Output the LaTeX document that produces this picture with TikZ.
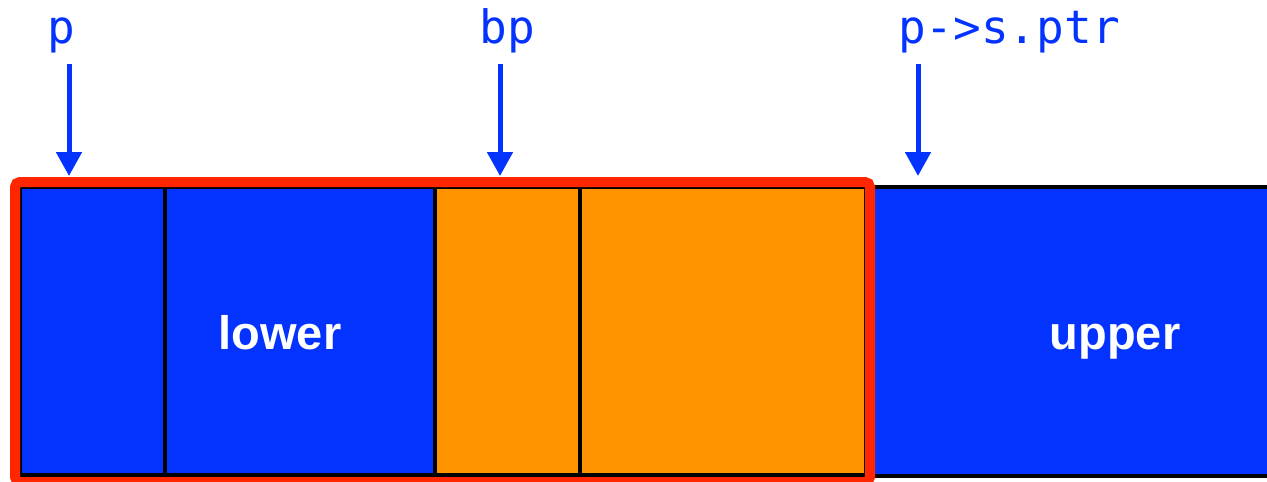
\documentclass[tikz,border=0pt]{standalone}
\usepackage{fontspec}
\setsansfont{Liberation Sans}
\newfontfamily\monofont{DejaVu Sans Mono}
\usetikzlibrary{arrows.meta}
\definecolor{kblue}{HTML}{0433FF}
\definecolor{korange}{HTML}{FF9300}
\definecolor{kred}{HTML}{FF2600}
\tikzset{
  cellbox/.style={draw=black, line width=4pt},
  ptrlabel/.style={text=kblue, font=\monofont\fontsize{46}{50}\selectfont, anchor=base, inner sep=0pt},
  ptrarrow/.style={draw=kblue, line width=5pt, -{Triangle[width=25pt,length=24pt]}},
  regionlabel/.style={text=white, font=\sffamily\bfseries\fontsize{47}{52}\selectfont, anchor=base, inner sep=0pt},
  redframe/.style={draw=kred, line width=10pt, rounded corners=5pt}
}
\begin{document}
\begin{tikzpicture}[x=1pt,y=-1pt]
\useasboundingbox (0,0) rectangle (1267,482);
\clip (0,0) rectangle (1267,482);
% cells
\draw[cellbox, fill=kblue] (20,187) rectangle (165,475);
\draw[cellbox, fill=kblue] (165,187) rectangle (434.5,475);
\draw[cellbox, fill=korange] (434.5,187) rectangle (580,475);
\draw[cellbox, fill=korange] (580,187) rectangle (866,475);
\draw[cellbox, line width=3.5pt, fill=kblue] (872,187) rectangle (1300,476);
% region labels
\node[regionlabel] (lower) at (280,349) {lower};
\node[regionlabel] (upper) at (1115,349) {upper};
% red frame
\draw[redframe] (15,182) rectangle (870,482);
% pointer labels
\node[ptrlabel] (p) at (61,43) {p};
\node[ptrlabel] (bp) at (507,43) {bp};
\node[ptrlabel] (sptr) at (1009,43) {p->s.ptr};
% arrow coordinates
\coordinate (pS) at (69,64);
\coordinate (pT) at (69,176);
\coordinate (bpS) at (500,64);
\coordinate (bpT) at (500,176);
\coordinate (sS) at (918,64);
\coordinate (sT) at (918,176);
\draw[ptrarrow] (pS) -- (pT);
\draw[ptrarrow] (bpS) -- (bpT);
\draw[ptrarrow] (sS) -- (sT);
\end{tikzpicture}
\end{document}
